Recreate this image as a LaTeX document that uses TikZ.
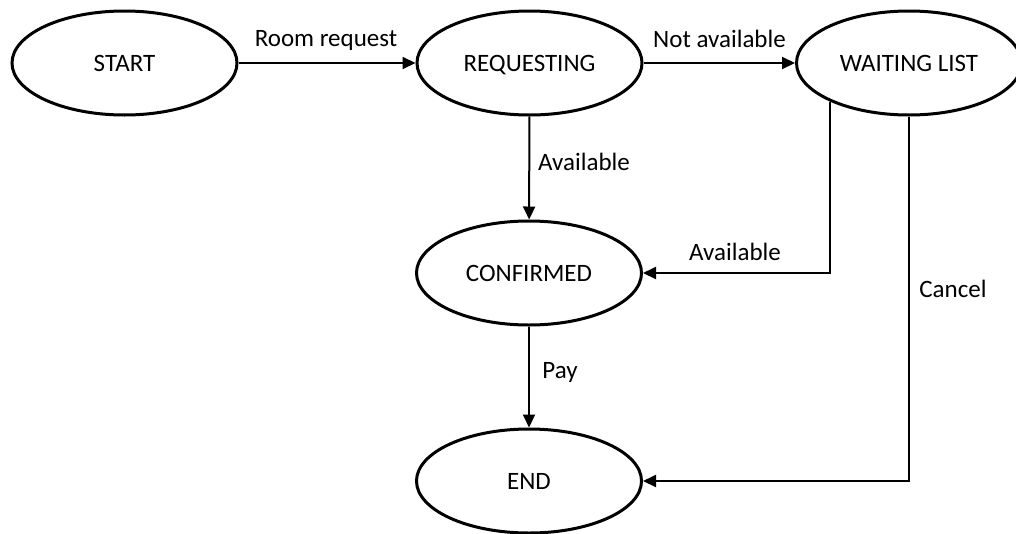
\documentclass[tikz,border=0pt]{standalone}
\usepackage{fontspec}
\setmainfont{Carlito}
\usetikzlibrary{shapes.geometric,arrows.meta}

\begin{document}
\begin{tikzpicture}[x=1pt,y=-1pt,
  every node/.style={font=\fontsize{25}{30}\selectfont},
  state/.style={ellipse,draw,line width=3pt,minimum width=225pt,minimum height=104pt,inner sep=0pt,text height=16pt,text depth=0pt},
  link/.style={-{Triangle[length=13pt,width=12pt]},line width=2pt}]
\useasboundingbox (0,0) rectangle (1016,533);

% States
\node[state] (start) at (124.5,63) {START};
\node[state] (req) at (529.5,63) {REQUESTING};
\node[state] (wait) at (909,63) {WAITING LIST};
\node[state] (conf) at (529,273) {CONFIRMED};
\node[state] (end) at (529,481) {END};

% Labels
\node (lroom) at (326,40) {Room request};
\node (lnot) at (719.5,39) {Not available};
\node (lavail) at (584,162) {Available};
\node (lavailw) at (735,252) {Available};
\node (lcancel) at (953,289) {Cancel};
\node (lpay) at (560,372) {Pay};

% Transitions
\draw[link] (start) -- (req);
\draw[link] (req) -- (wait);
\draw[link] (req) -- (conf);
\draw[link] (wait.206) |- (conf);
\draw[link] (wait.south) |- (end);
\draw[link] (conf) -- (end);
\end{tikzpicture}
\end{document}
